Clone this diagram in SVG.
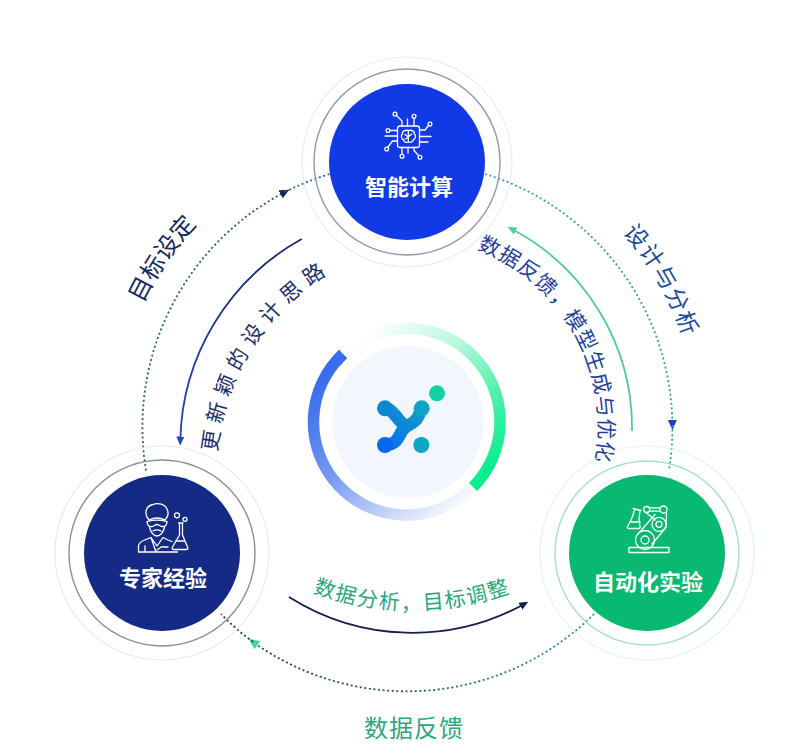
<svg xmlns="http://www.w3.org/2000/svg" width="799" height="756" viewBox="0 0 799 756">
<style>
text{font-family:"Noto Sans CJK SC","Liberation Sans",sans-serif}
.nl{fill:#fff;font-size:22px;font-weight:700;text-anchor:middle}
.cl{text-anchor:middle}
.dot{fill:none;stroke-width:1.8;stroke-dasharray:2 2.6}
.arc{fill:none;stroke-width:1.8}
.ic{fill:none;stroke:#fff;stroke-width:1.3;stroke-linecap:round;stroke-linejoin:round}
.ring1{fill:none;stroke-width:1.4}
.ring2{fill:none;stroke-width:1.2}
</style>
<defs>
<marker id="mNavy" viewBox="0 0 10 10" refX="5" refY="5" markerWidth="10" markerHeight="10" markerUnits="userSpaceOnUse" orient="auto"><path d="M0,0.5 L10,5 L0,9.500 z" fill="#14295f"/></marker>
<marker id="mBlue" viewBox="0 0 10 10" refX="5" refY="5" markerWidth="10" markerHeight="10" markerUnits="userSpaceOnUse" orient="auto"><path d="M0,0.5 L10,5 L0,9.500 z" fill="#1a3fc4"/></marker>
<marker id="mGreen" viewBox="0 0 10 10" refX="5" refY="5" markerWidth="11" markerHeight="11" markerUnits="userSpaceOnUse" orient="auto"><path d="M0,0.5 L10,5 L0,9.500 z" fill="#3fd69c"/></marker>
<marker id="mInkS" viewBox="0 0 10 10" refX="5" refY="5" markerWidth="9" markerHeight="9" markerUnits="userSpaceOnUse" orient="auto"><path d="M0,0.5 L10,5 L0,9.500 z" fill="#14204f"/></marker>
<marker id="mBlueS" viewBox="0 0 10 10" refX="5" refY="5" markerWidth="9" markerHeight="9" markerUnits="userSpaceOnUse" orient="auto"><path d="M0,0.5 L10,5 L0,9.500 z" fill="#2445b8"/></marker>
<marker id="mGreenS" viewBox="0 0 10 10" refX="5" refY="5" markerWidth="9" markerHeight="9" markerUnits="userSpaceOnUse" orient="auto"><path d="M0,0.5 L10,5 L0,9.500 z" fill="#4fcb9b"/></marker>
<linearGradient id="gBlueArc" gradientUnits="userSpaceOnUse" x1="330" y1="370" x2="470" y2="505"><stop offset="0" stop-color="#3a6ded"/><stop offset="0.35" stop-color="#6f94f0"/><stop offset="0.75" stop-color="#ccd9f8"/><stop offset="1" stop-color="#fff"/></linearGradient>
<linearGradient id="gGreenArc" gradientUnits="userSpaceOnUse" x1="355" y1="345" x2="490" y2="470"><stop offset="0" stop-color="#fff"/><stop offset="0.4" stop-color="#b8f8dc"/><stop offset="0.75" stop-color="#4df0ac"/><stop offset="1" stop-color="#08ee8c"/></linearGradient>
<linearGradient id="gLogo" gradientUnits="userSpaceOnUse" x1="385" y1="450" x2="425" y2="405"><stop offset="0" stop-color="#0a68ee"/><stop offset="1" stop-color="#0fa6c4"/></linearGradient>
<linearGradient id="gBottom" gradientUnits="userSpaceOnUse" x1="221" y1="614" x2="594" y2="614"><stop offset="0" stop-color="#1d3a72"/><stop offset="0.5" stop-color="#27597c"/><stop offset="1" stop-color="#2f9d90"/></linearGradient>
<linearGradient id="gNavyArc" gradientUnits="userSpaceOnUse" x1="301" y1="239" x2="180" y2="439"><stop offset="0" stop-color="#18285f"/><stop offset="1" stop-color="#2445b8"/></linearGradient>
<path id="pGoal" d="M117,455.500 A292,292 0 0 1 329,145.700"/>
<path id="pDesign" d="M506.700,154.500 A290,290 0 0 1 693.100,477.400"/>
<path id="pFeed" d="M444,239.500 A191,191 0 0 1 586,495"/>
<path id="pNew" d="M219.600,514.800 A235,235 0 0 1 390.200,247"/>
<path id="pAna" d="M226.900,542.600 A288,288 0 0 0 597.100,542.600"/>
</defs>
<rect width="799" height="756" fill="#fff"/>
<g id="connectors">
<path class="dot" stroke="#2a5f7e" marker-end="url(#mNavy)" d="M146,470.500 A265,265 0 0 1 285,192"/>
<path class="dot" stroke="#2a6a80" d="M285,192 A265,265 0 0 1 330,174"/>
<path class="dot" stroke="#37a58e" marker-end="url(#mBlue)" d="M485,174 A265,265 0 0 1 672.400,425"/>
<path class="dot" stroke="#2f9ea0" d="M672.400,425 A265,265 0 0 1 669,470"/>
<path class="dot" stroke="url(#gBottom)" marker-end="url(#mGreen)" d="M594,614 A265,265 0 0 1 253,642"/>
<path class="dot" stroke="#1d3a72" d="M253,642 A265,265 0 0 1 221,614"/>
<path class="arc" stroke="url(#gNavyArc)" marker-end="url(#mBlueS)" d="M301.700,239 A236,236 0 0 0 180.300,441"/>
<path class="arc" stroke="#4fcb9b" marker-end="url(#mGreenS)" d="M632,431 A225,225 0 0 0 511.700,229"/>
<path class="arc" stroke="#14204f" marker-end="url(#mInkS)" d="M289,597 A231,231 0 0 0 524.300,604"/>
</g>
<g id="labels">
<text class="cl" font-size="24" fill="#12275f"><textPath href="#pGoal" startOffset="50%">目标设定</textPath></text>
<text class="cl" font-size="23" letter-spacing="1.500" fill="#1a4c9c"><textPath href="#pDesign" startOffset="50%">设计与分析</textPath></text>
<text class="cl" font-size="21" letter-spacing="1" fill="#22409c"><textPath href="#pFeed" startOffset="50%">数据反馈，模型生成与优化</textPath></text>
<text class="cl" font-size="21" letter-spacing="6.800" fill="#1b2f6a"><textPath href="#pNew" startOffset="50%">更新颖的设计思路</textPath></text>
<text class="cl" font-size="21" letter-spacing="1.500" fill="#2aa77e"><textPath href="#pAna" startOffset="50%">数据分析，目标调整</textPath></text>
<text x="414" y="737" class="cl" font-size="24" letter-spacing="1" fill="#2aa77e">数据反馈</text>
</g>
<g id="node-compute">
<circle cx="407" cy="162" r="105" class="ring2" stroke="#e9ecf3"/>
<circle cx="407" cy="162" r="93" class="ring1" stroke="#8f97b6"/>
<circle cx="407" cy="162" r="78" fill="#1239e6"/>
<g class="ic">
<rect x="397.500" y="126" width="22" height="21.500" rx="2.500"/>
<path d="M402,126V121L396.500,115.500M407.500,126V119M414,126V118.500M419.500,130H425L428.500,125.500M419.500,136.500H431M419.500,142H428M402,147.500V154M408,147.500V153M414,147.500V150.500L418.500,155.500M397.500,130.500H390M397.500,136H385M397.500,141H392.500L388,147"/>
<circle cx="395" cy="114" r="1.900"/><circle cx="414" cy="116.300" r="1.900"/><circle cx="430" cy="124" r="1.900"/><circle cx="402" cy="156.200" r="1.900"/><circle cx="420" cy="157.200" r="1.900"/><circle cx="388" cy="130.500" r="1.900"/><circle cx="386.700" cy="149" r="1.900"/>
<path d="M408.300,130.500C404,129.500 402,132 402.300,134C400.600,136 401.500,139 403.300,139.500C403.800,142 406.500,143 408.300,142C410.200,143 413,142 413.500,139.500C415.300,139 416.200,136 414.500,134C414.800,132 412.500,129.500 408.300,130.500ZM408.300,130.500V142M405,134.500L408,137M411.800,134L408.600,136.600M405,139L408,137.800"/>
</g>
<text x="409" y="195" class="nl">智能计算</text>
</g>
<g id="node-expert">
<circle cx="162" cy="553" r="107" class="ring2" stroke="#e9e9ee"/>
<circle cx="162" cy="553" r="93" class="ring1" stroke="#8a8e9e"/>
<circle cx="162" cy="553" r="78" fill="#152a84"/>
<g class="ic">
<path d="M149,520C144,515 145,506 153,504.500C158,502.500 165,504 167,509C169,513 168,517 165,520C160,517.500 154,517.500 149,520Z"/>
<path d="M147,521.500C147,525 149,527 152,526.500C154,526.500 155,524.500 157,524.500C159,524.500 160,526.500 162,526.500C165,527 167,525 167,521.500C160,519.500 154,519.500 147,521.500Z"/>
<path d="M149.500,527C150.500,532 153.500,536 157,536C160.500,536 163.500,532 164.500,527M153,531C155.500,529.500 158.500,529.500 161,531"/>
<path d="M138.500,552V546C138.500,542.500 142,541 146,539.500L151,537.500L157,546L163,537.500L168,540L172,541.500M138.500,552H177.500M145,546V552M151,537.500L156,552M162,546.500L157,550M163,547H168"/>
<path d="M178.500,523H183M179.500,523V535L172.500,547C171.500,549 172.500,549.500 174,549.500H186C187.500,549.500 188.500,549 187.500,547L182.500,535V523M175.500,541H185"/>
<circle cx="177" cy="515.300" r="2.500"/><circle cx="185" cy="519.300" r="2"/>
</g>
<text x="163" y="586" class="nl">专家经验</text>
</g>
<g id="node-auto">
<circle cx="647" cy="553" r="107" class="ring2" stroke="#dff5ee"/>
<circle cx="647" cy="553" r="92" class="ring1" stroke="#a5dfc9"/>
<circle cx="647" cy="553" r="78" fill="#09b871"/>
<g class="ic">
<rect x="629" y="547.500" width="40" height="5"/>
<circle cx="645" cy="540" r="9.500"/><circle cx="645" cy="540" r="4"/>
<circle cx="659" cy="524.300" r="7"/><circle cx="659" cy="524.300" r="3"/>
<circle cx="663.500" cy="509.500" r="3.500"/><circle cx="646.700" cy="509.500" r="3"/>
<path d="M649.700,507.800H660M649.700,511.200H660M638,534L655,514.500M652,544L666,527.500L666.500,513M646,512.500L655,520"/>
<path d="M633,508.500L641,510.500M635,509L631.500,519L627.500,526.500C627,528 627.500,528.500 629,528.500H638.500C640,528.500 640.500,527.500 640,526.500L639,519L640,510.500M630,522H640"/>
</g>
<text x="648" y="590" class="nl">自动化实验</text>
</g>
<g id="node-center">
<circle cx="408" cy="422" r="76" fill="#f3f6fd"/>
<path d="M343,354 A93,93 0 0 0 470,490" fill="none" stroke="url(#gBlueArc)" stroke-width="11.500"/>
<path d="M343,354 A93,93 0 0 1 473,487" fill="none" stroke="url(#gGreenArc)" stroke-width="11.500"/>
<path d="M343,354 A93,93 0 0 0 336,362" fill="none" stroke="#3a6ded" stroke-width="11.500"/>
<g fill="none" stroke="url(#gLogo)" stroke-width="12.500" stroke-linecap="round">
<path d="M385,445C396,445 398,438 402,431C406,424 414,425 418,417C420,413 420,410 421.700,408.300"/>
<path d="M385,408.300C394,409 398,422 406,426"/>
</g>
<circle cx="385" cy="408.300" r="8" fill="#0d86d2"/>
<circle cx="421.700" cy="408.300" r="8" fill="#0fa3c6"/>
<circle cx="385" cy="445" r="8" fill="#0a68ee"/>
<circle cx="421.300" cy="445" r="8" fill="#0aa6c4"/>
<circle cx="437" cy="393.300" r="8" fill="#10d0a4"/>
</g>
</svg>
